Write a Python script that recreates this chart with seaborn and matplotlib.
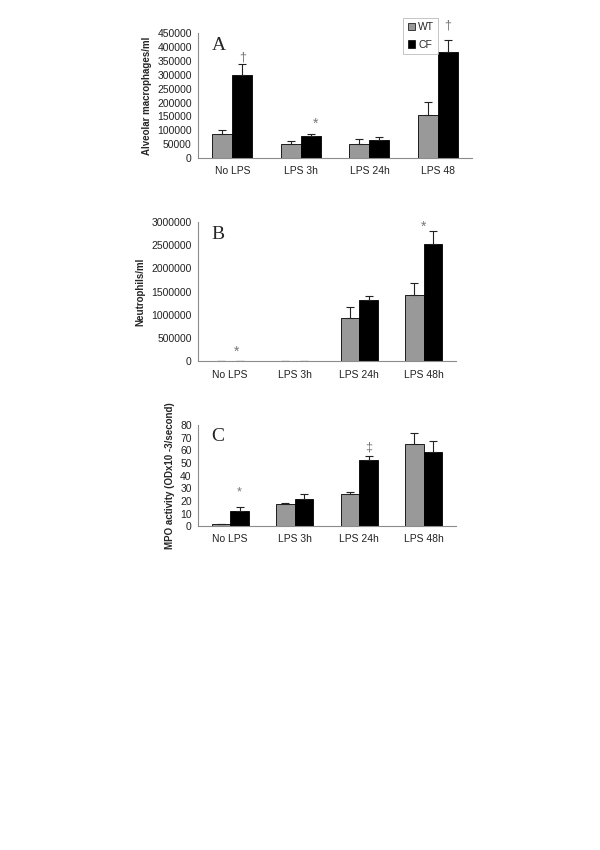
import numpy as np
import pandas as pd
import matplotlib
matplotlib.use("Agg")
import matplotlib.pyplot as plt
import seaborn as sns
from matplotlib.ticker import FixedLocator

groups = ["No LPS", "LPS 3h", "LPS 24h", "LPS 48h"]
groups_a = ["No LPS", "LPS 3h", "LPS 24h", "LPS 48"]
genotypes = ["WT", "CF"]

# panel A - alveolar macrophages
mac_wt = [85000, 50000, 50000, 157000]
mac_wt_err = [15000, 10000, 17000, 45000]
mac_cf = [298000, 80000, 65000, 383000]
mac_cf_err = [42000, 7000, 10000, 42000]

# panel B - neutrophils
neu_wt = [12000, 8000, 940000, 1430000]
neu_wt_err = [0, 0, 230000, 250000]
neu_cf = [12000, 8000, 1310000, 2520000]
neu_cf_err = [0, 0, 90000, 290000]

# panel C - MPO activity
mpo_wt = [1.5, 17.5, 25.5, 65]
mpo_wt_err = [0.4, 1.0, 1.6, 8.5]
mpo_cf = [12, 21.5, 52, 59]
mpo_cf_err = [3, 4, 3.5, 8.5]

sns.set_style("white")
plt.rcParams['font.family'] = ['Liberation Sans', 'DejaVu Sans']

colors = {"WT": "#999999", "CF": "#000000"}
gridc = "#8c8c8c"

fig = plt.figure(figsize=(6, 8.5), dpi=100)
axA = fig.add_axes([0.33, 0.814, 0.457, 0.147])
axB = fig.add_axes([0.33, 0.575, 0.430, 0.164])
axC = fig.add_axes([0.33, 0.381, 0.430, 0.119])


def panel(ax, labels, wt, wt_err, cf, cf_err, ymax, step, ylabel, letter):
    df = pd.DataFrame({
        "cond": labels * 2,
        "geno": ["WT"] * 4 + ["CF"] * 4,
        "val": wt + cf,
    })
    sns.barplot(data=df, x="cond", y="val", hue="geno", order=labels,
                hue_order=genotypes, palette=colors, width=0.58,
                edgecolor="black", linewidth=0.6, errorbar=None,
                legend=False, ax=ax)
    # upper-only error bars like the original
    for cont, vals, errs in zip(ax.containers, [wt, cf], [wt_err, cf_err]):
        xs = [b.get_x() + b.get_width() / 2 for b in cont]
        ax.errorbar(xs, vals, yerr=[np.zeros(4), errs], fmt="none",
                    ecolor="#222222", elinewidth=0.8, capsize=3,
                    capthick=0.8, zorder=1)
    ax.set_xlim(-0.5, 3.5)
    ax.set_ylim(0, ymax)
    ticks = np.arange(0, ymax + step / 2, step)
    ax.set_yticks(ticks)
    ax.set_yticklabels([f"{int(v)}" for v in ticks])
    ax.xaxis.set_minor_locator(FixedLocator([0.5, 1.5, 2.5, 3.5]))
    ax.tick_params(axis="x", which="major", length=0, labelsize=7.5,
                   pad=6, colors="#222222")
    ax.tick_params(axis="x", which="minor", length=3, color=gridc,
                   width=0.8, direction="out")
    ax.tick_params(axis="y", length=3, color=gridc, width=0.8, pad=1.5,
                   labelsize=7.5, direction="out", labelcolor="#222222")
    for s in ["top", "right"]:
        ax.spines[s].set_visible(False)
    for s in ["left", "bottom"]:
        ax.spines[s].set_color(gridc)
        ax.spines[s].set_linewidth(0.8)
    ax.set_xlabel("")
    ax.set_ylabel(ylabel, fontsize=7, fontweight="bold", labelpad=4)
    ax.text(0.05, 0.97, letter, transform=ax.transAxes, fontsize=14,
            family="Liberation Serif", va="top", ha="left")


panel(axA, groups_a, mac_wt, mac_wt_err, mac_cf, mac_cf_err, 450000, 50000,
      "Alveolar macrophages/ml", "A")
panel(axB, groups, neu_wt, neu_wt_err, neu_cf, neu_cf_err, 3000000, 500000,
      "Neutrophils/ml", "B")
panel(axC, groups, mpo_wt, mpo_wt_err, mpo_cf, mpo_cf_err, 80, 10,
      "MPO activity (ODx10 -3/second)", "C")

mark = dict(color="#777777", ha="center", va="center", clip_on=False)
axA.text(0.145, 364000, "\u2020", fontsize=9, **mark)
axA.text(1.22, 122000, "*", fontsize=10, **mark)
axA.text(3.145, 477000, "\u2020", fontsize=9, **mark)
axB.text(0.1, 200000, "*", fontsize=10, **mark)
axB.text(3.0, 2900000, "*", fontsize=10, **mark)
axC.text(0.145, 27, "*", fontsize=9, **mark)
axC.text(2.145, 62, "\u2021", fontsize=9, **mark)

handles = [plt.Rectangle((0, 0), 1, 1, facecolor=colors[g], edgecolor="black",
                         linewidth=0.5) for g in genotypes]
leg = axA.legend(handles, genotypes, loc="upper right",
                 bbox_to_anchor=(0.876, 1.12), fontsize=7.5, frameon=True,
                 handlelength=0.7, handleheight=0.7, handletextpad=0.3,
                 borderpad=0.4, labelspacing=0.7, fancybox=False,
                 borderaxespad=0)
leg.get_frame().set_edgecolor("#aaaaaa")
leg.get_frame().set_linewidth(0.6)

fig.savefig("out.png", dpi=100)
